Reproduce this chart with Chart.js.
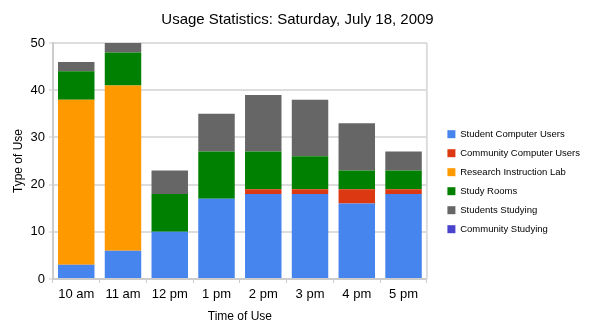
<!DOCTYPE html>
<html>
<head>
<meta charset="utf-8">
<script src="https://cdn.jsdelivr.net/npm/chart.js@4"></script>
<style>
  html, body { margin: 0; padding: 0; background: #fff; }
  #wrap { width: 591px; height: 332px; }
</style>
</head>
<body>
<div id="wrap"><canvas id="usageChart"></canvas></div>
<script>
// Categories (time of day)
const hours = ['10 am', '11 am', '12 pm', '1 pm', '2 pm', '3 pm', '4 pm', '5 pm'];

// Series values
const studentComputer   = [3, 6, 10, 17, 18, 18, 16, 18];
const communityComputer = [0, 0, 0, 0, 1, 1, 3, 1];
const researchLab       = [35, 35, 0, 0, 0, 0, 0, 0];
const studyRooms        = [6, 7, 8, 10, 8, 7, 4, 4];
const studentsStudying  = [2, 2, 5, 8, 12, 12, 10, 4];
const communityStudying = [0, 0, 0, 0, 0, 0, 0, 0];

const yTicks = [0, 10, 20, 30, 40, 50];

const fontFamily = '"Liberation Sans", Arial, sans-serif';

function series(label, data, color) {
    return {
        label: label,
        data: data,
        backgroundColor: color,
        borderWidth: 0,
        barPercentage: 0.78,
        categoryPercentage: 1.0
    };
}

document.addEventListener('DOMContentLoaded', function() {
    const ctx = document.getElementById('usageChart').getContext('2d');

    new Chart(ctx, {
        type: 'bar',
        data: {
            labels: hours,
            datasets: [
                series('Student Computer Users', studentComputer, '#4684ee'),
                series('Community Computer Users', communityComputer, '#dc3912'),
                series('Research Instruction Lab', researchLab, '#ff9900'),
                series('Study Rooms', studyRooms, '#008000'),
                series('Students Studying', studentsStudying, '#666666'),
                series('Community Studying', communityStudying, '#4942cc')
            ]
        },
        options: {
            responsive: true,
            maintainAspectRatio: false,
            animation: false,
            layout: { padding: { left: 5, right: 1, top: 0, bottom: 8 } },
            plugins: {
                title: {
                    display: true,
                    text: 'Usage Statistics: Saturday, July 18, 2009',
                    color: '#000',
                    font: { family: fontFamily, size: 15, weight: 'normal' },
                    padding: { top: 11, bottom: 14 }
                },
                legend: {
                    position: 'right',
                    align: 'center',
                    maxWidth: 200,
                    title: {
                        // blank title only nudges the items down
                        display: true,
                        text: ' ',
                        font: { family: fontFamily, size: 9.5 },
                        padding: { top: 28, bottom: 0 }
                    },
                    labels: {
                        color: '#000',
                        boxWidth: 8,
                        boxHeight: 8,
                        padding: 9.5,
                        font: { family: fontFamily, size: 9.5 }
                    }
                },
                tooltip: { enabled: false }
            },
            scales: {
                x: {
                    stacked: true,
                    grid: {
                        display: true,
                        drawOnChartArea: false,
                        drawTicks: true,
                        tickLength: 4,
                        color: '#cccccc'
                    },
                    border: { color: '#cccccc', width: 2 },
                    ticks: {
                        color: '#000',
                        font: { family: fontFamily, size: 13 },
                        padding: 3.5,
                        maxRotation: 0,
                        autoSkip: false
                    },
                    title: {
                        display: true,
                        text: 'Time of Use',
                        color: '#000',
                        font: { family: fontFamily, size: 12 },
                        padding: { top: 4, bottom: 0 }
                    }
                },
                y: {
                    stacked: true,
                    min: 0,
                    max: 50,
                    afterBuildTicks: function(axis) {
                        axis.ticks = yTicks.map(v => ({ value: v }));
                    },
                    grid: {
                        color: '#dddddd',
                        lineWidth: 2,
                        drawTicks: true,
                        tickLength: 4,
                        tickColor: '#cccccc',
                        tickWidth: 1
                    },
                    border: { color: '#cccccc', width: 2 },
                    ticks: {
                        color: '#000',
                        font: { family: fontFamily, size: 13 },
                        padding: 4
                    },
                    title: {
                        display: true,
                        text: 'Type of Use',
                        color: '#000',
                        font: { family: fontFamily, size: 12 },
                        padding: { top: 6, bottom: 1 }
                    }
                },
                // empty axis: just a gap between the plot and the legend
                gap: {
                    position: 'right',
                    min: 0,
                    max: 50,
                    grid: { display: false },
                    border: { display: false },
                    ticks: { display: false },
                    afterFit: function(axis) { axis.width = 11; }
                }
            }
        },
        plugins: [{
            // light frame on the right side of the plot, like the original
            id: 'rightEdge',
            afterDraw(chart) {
                const a = chart.chartArea;
                const c = chart.ctx;
                c.save();
                c.strokeStyle = '#dddddd';
                c.lineWidth = 2;
                c.beginPath();
                c.moveTo(a.right, a.top);
                c.lineTo(a.right, a.bottom);
                c.stroke();
                c.restore();
            }
        }]
    });
});
</script>
</body>
</html>
